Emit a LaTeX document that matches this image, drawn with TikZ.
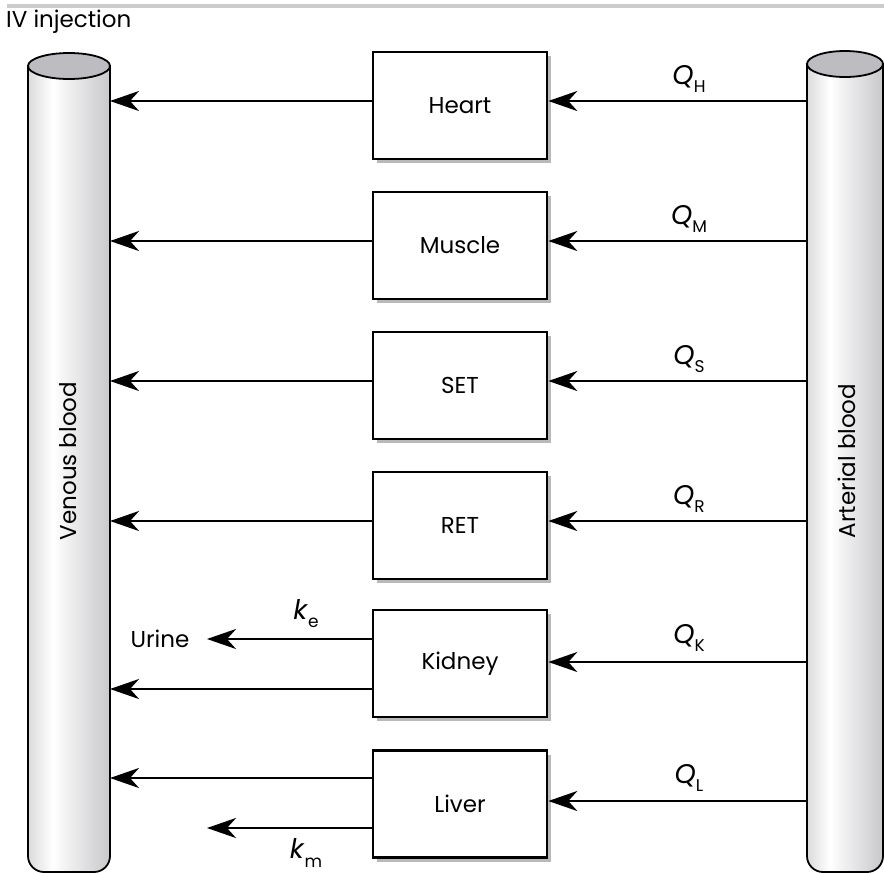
\documentclass[tikz,border=0pt]{standalone}
\usepackage{fontspec}
\setmainfont{Poppins}
\usetikzlibrary{arrows.meta,shadows}
\definecolor{cylL}{RGB}{165,165,170}
\definecolor{cylR}{RGB}{145,145,152}
\definecolor{cyltop}{RGB}{188,188,193}
\definecolor{shadowgray}{RGB}{185,185,185}
\pgfdeclarehorizontalshading{cylshade}{100bp}{color(0bp)=(cylL); color(25bp)=(cylL!40!white); color(40bp)=(white); color(75bp)=(cylR!50!white); color(100bp)=(cylR)}
\tikzset{
  organ/.style={draw, line width=2.6pt, fill=white, minimum width=174pt, minimum height=107pt,
    font=\fontsize{23}{23}\selectfont,
    drop shadow={shadow xshift=4pt, shadow yshift=-4pt, fill=shadowgray, opacity=1}},
  flow/.style={line width=2.6pt, -{Stealth[length=29pt,width=20pt,inset=9pt]}},
  lbl/.style={font=\fontsize{23}{23}\selectfont, inner sep=0pt},
  qlbl/.style={font=\fontsize{27}{27}\selectfont, inner sep=0pt},
  cyl/.style={draw, line width=1.8pt, shading=cylshade},
}
\newcommand{\qlab}[2]{\textit{#1}\raisebox{-0.3em}{\fontsize{17}{17}\selectfont #2}}
\begin{document}
\begin{tikzpicture}[x=1pt,y=-1pt]
\useasboundingbox (0,0) rectangle (884,873);
\fill[white] (0,0) rectangle (884,873);
\draw[line width=3.5pt, gray!40] (7,6) -- (884,6);
\node[lbl, anchor=west] (iv) at (6,22) {IV injection};

% venous cylinder
\path[cyl] (28,66) -- (28,856) arc[start angle=180,end angle=90,radius=16] -- (94,872)
  arc[start angle=90,end angle=0,radius=16] -- (110,66) -- cycle;
\draw[line width=1.8pt, fill=cyltop] (69,66) ellipse [x radius=41, y radius=13];
\node[lbl, rotate=90] (ven) at (68,461) {Venous blood};

% arterial cylinder
\path[cyl] (807,64) -- (807,856) arc[start angle=180,end angle=90,radius=16] -- (867,872)
  arc[start angle=90,end angle=0,radius=16] -- (883,64) -- cycle;
\draw[line width=1.8pt, fill=cyltop] (845,64) ellipse [x radius=38, y radius=13];
\node[lbl, rotate=90] (art) at (847,461) {Arterial blood};

% organs
\node[organ] (heart)  at (460,105.5) {Heart};
\node[organ] (muscle) at (460,245.5) {Muscle};
\node[organ] (set)    at (460,385.5) {SET};
\node[organ] (ret)    at (460,525.5) {RET};
\node[organ] (kidney) at (460,663.5) {Kidney};
\node[organ] (liver)  at (460,804)   {Liver};

% edge coordinates
\coordinate (vH) at (110,101);  \coordinate (aH) at (807,101);
\coordinate (vM) at (110,241);  \coordinate (aM) at (807,241);
\coordinate (vS) at (110,381);  \coordinate (aS) at (807,381);
\coordinate (vR) at (110,521);  \coordinate (aR) at (807,521);
\coordinate (vK) at (110,689);  \coordinate (aK) at (807,662);
\coordinate (vL) at (110,778);  \coordinate (aL) at (807,801);
\coordinate (uri) at (207,639);
\coordinate (met) at (207,828);

\draw[flow] (aH) -- (aH -| heart.east);
\draw[flow] (heart.west |- vH) -- (vH);
\draw[flow] (aM) -- (aM -| muscle.east);
\draw[flow] (muscle.west |- vM) -- (vM);
\draw[flow] (aS) -- (aS -| set.east);
\draw[flow] (set.west |- vS) -- (vS);
\draw[flow] (aR) -- (aR -| ret.east);
\draw[flow] (ret.west |- vR) -- (vR);
\draw[flow] (aK) -- (aK -| kidney.east);
\draw[flow] (kidney.west |- vK) -- (vK);
\draw[flow] (kidney.west |- uri) -- (uri);
\draw[flow] (aL) -- (aL -| liver.east);
\draw[flow] (liver.west |- vL) -- (vL);
\draw[flow] (liver.west |- met) -- (met);

% labels
\node[qlbl] (qh) at (689,79)  {\qlab{Q}{H}};
\node[qlbl] (qm) at (689,219) {\qlab{Q}{M}};
\node[qlbl] (qs) at (689,359) {\qlab{Q}{S}};
\node[qlbl] (qr) at (689,499) {\qlab{Q}{R}};
\node[qlbl] (qk) at (689,638) {\qlab{Q}{K}};
\node[qlbl] (ql) at (689,778) {\qlab{Q}{L}};
\node[qlbl] (ke) at (306,614) {\qlab{k}{e}};
\node[qlbl] (km) at (306,853) {\qlab{k}{m}};
\node[lbl] (urine) at (160,639) {Urine};
\end{tikzpicture}
\end{document}
